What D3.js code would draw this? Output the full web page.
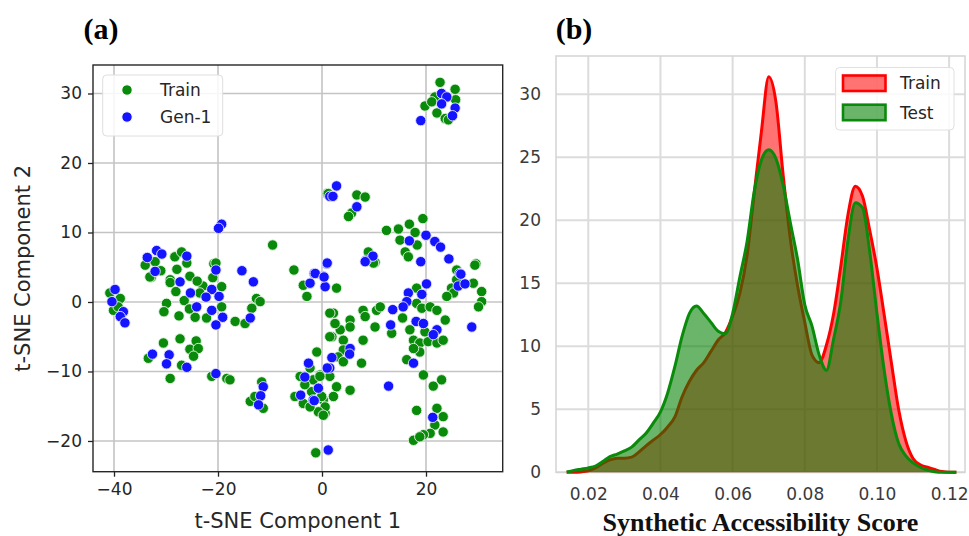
<!DOCTYPE html>
<html><head><meta charset="utf-8">
<script src="https://cdn.jsdelivr.net/npm/d3@7"></script>
<style>body{margin:0;background:#fff}svg{display:block}</style>
</head><body><svg id="c" width="969" height="536" font-family="DejaVu Sans"></svg>
<script>
// ---------- Panel (a) data: t-SNE components ----------
const trainPts = [
[-9.5,8.2],[-5.4,4.6],[-20.8,5.5],[-34.0,5.3],[-28.3,6.5],[-27.0,7.2],[-32.1,5.8],[-27.9,4.7],[-25.4,3.7],[-29.2,3.2],[-32.8,3.6],[1.0,15.6],
[22.7,31.6],[25.6,30.6],[21.7,29.5],[19.8,28.2],[22.1,27.2],[23.7,26.4],[24.3,26.2],[25.7,29.1],[21.1,28.8],
[1.2,15.6],[6.7,15.4],[8.3,15.1],[5.7,12.8],[5.1,12.3],
[12.4,10.3],[14.7,10.5],[16.8,11.2],[19.4,12.0],[17.9,10.0],[15.0,8.9],[16.0,7.2],[16.6,6.5],[18.3,8.2],[29.6,5.5],[25.9,4.6],
[8.9,7.2],[10.2,5.7],
[29.4,5.3],[9.9,5.6],[2.8,2.0],[25.9,3.2],[24.9,2.0],[25.3,1.3],[24.0,0.8],[29.1,2.7],[30.7,1.5],[30.7,0.05],[30.1,-0.7],
[18.2,2.0],[18.2,-0.2],[19.2,-0.9],[20.8,-0.7],[22.1,-1.2],[23.7,-2.6],[16.9,-4.0],[17.6,-5.5],[18.8,-5.9],[20.4,-5.7],[22.1,-5.9],[23.3,-5.5],[19.8,-4.3],[18.8,-7.2],[17.6,-6.7],[16.3,-8.3],[13.4,-4.5],[15.5,-2.3],
[2.2,-1.6],[5.4,-2.6],[7.9,-1.2],[10.5,-1.2],[11.2,-0.7],[10.2,-3.6],[8.3,-2.1],[1.9,-5.0],[3.5,-4.0],[4.1,-5.5],[4.1,-6.9],[3.1,-7.9],[4.1,-8.6],[7.9,-5.5],[7.6,-8.8],[-1.0,-7.2],[5.4,-3.6],[2.5,-3.1],
[-0.4,-10.5],[1.5,-10.7],[2.8,-12.2],[0.25,-14.1],[2.2,-13.6],[5.4,-12.7],[0.6,-16.0],
[19.5,-10.5],[23.0,-11.2],[21.4,-12.1],[18.2,-15.6],[22.1,-15.3],[23.3,-16.5],[21.7,-17.7],[23.3,-18.7],[20.8,-18.9],[19.5,-19.1],[17.6,-19.9],[18.8,-19.4],
[-1.2,-21.7],
[-40.8,1.3],[-38.8,0.5],[-40.1,-1.2],[-39.2,-0.7],
[-33.1,3.6],[-29.2,2.8],[-28.1,1.5],[-26.5,0.2],[-29.9,-0.2],[-30.4,-1.4],[-22.9,2.3],[-23.5,1.3],[-19.3,-0.7],[-24.4,-2.2],[-22.2,-2.3],[-19.3,2.2],[-20.4,5.6],[-16.7,-2.8],[-14.8,-3.1],[-12.6,0.5],[-11.9,0.05],[-13.5,-0.9],
[-3.6,2.4],[-2.9,0.8],[1.5,-1.6],[1.5,-5.0],
[-30.5,-5.9],[-33.4,-8.1],[-27.3,-5.3],[-25.4,-6.8],[-24.2,-5.6],[-23.8,-6.7],[-27.0,-9.1],[-29.2,-11.0],[-24.7,-7.8],
[-21.2,-10.7],[-18.3,-11.0],[-17.7,-11.2],
[-13.8,-14.3],[-11.6,-11.5],[-11.3,-15.3],[-12.9,-13.6],
[-4.2,-10.7],[-5.2,-13.6],[-3.6,-14.6],[-1.7,-11.2],[-0.4,-10.7],[-0.06,-13.6],[0.6,-15.1],[-0.7,-15.8],[0.25,-16.3],[-2.3,-15.1],[-2.0,-12.9],[-3.3,-11.9],[-2.3,-9.5],
[-31.0,4.5],[-26.0,5.6],[-24.0,3.0],[-21.0,3.5],[-27.5,-2.0],[-25.5,-1.0]
];
const genPts = [
[-19.3,11.2],[-19.9,10.6],[-1.5,4.1],[0.25,3.7],[-15.4,4.5],[-20.4,4.6],[-31.8,7.4],[-30.8,6.9],[-33.6,6.4],[-26.0,6.6],[-32.1,4.4],[1.5,15.2],[0.9,5.5],
[23.0,30.0],[24.0,29.5],[23.0,28.5],[25.6,27.9],[25.1,26.8],[19.0,26.1],[2.8,16.7],[2.1,15.2],[6.7,13.7],[16.8,8.8],[20.0,9.6],[21.7,8.7],[22.8,7.9],[24.4,6.2],[19.0,5.8],[26.5,4.1],[8.5,6.0],[9.8,6.6],[-1.3,4.1],
[8.3,5.8],[-2.3,2.7],[0.6,2.2],[0.4,3.6],[26.7,4.0],[26.2,2.3],[27.5,2.6],[20.1,2.6],[16.6,1.3],[19.2,1.1],[16.3,0.05],[15.6,-0.7],[13.6,-1.1],[18.1,-2.8],[19.5,-3.1],[22.1,-4.0],[21.4,-4.7],[17.6,-8.8],[28.8,-3.6],[13.2,-3.3],[5.4,-6.7],[5.3,-7.5],[1.9,-8.0],[1.5,-9.5],[-0.7,-12.4],[-1.7,-14.1],[12.8,-12.1],[21.3,-16.6],[1.2,-21.3],
[-39.8,1.8],[-40.4,0.05],[-38.2,-1.4],[-38.8,-2.1],[-37.9,-3.0],[-27.3,2.9],[-25.3,1.3],[-21.2,1.8],[-19.8,0.8],[-22.3,0.7],[-24.1,-0.7],[-21.2,-1.2],[-19.1,-2.2],[-20.4,-3.3],[-13.2,2.9],[-13.8,-2.3],[1.0,5.6],[-32.6,-7.5],[-29.4,-7.6],[-29.9,-8.9],[-26.0,-9.4],[-20.4,-10.3],[-11.3,-12.2],[-11.8,-13.5],[-12.2,-14.8],[-2.6,-8.8],[-3.3,-10.8],[-4.1,-13.4],[-1.5,-14.2],[1.0,-9.5]
];
const aXTicks = [-40,-20,0,20];
const aYTicks = [-20,-10,0,10,20,30];
const aLegend = ["Train","Gen-1"];

// ---------- Panel (b) data: KDE of Synthetic Accessibility Score ----------
const saX = [0.014,0.016,0.018,0.020,0.022,0.024,0.026,0.028,0.030,0.032,0.034,0.036,0.038,0.040,0.042,0.044,0.046,0.048,0.050,0.052,0.054,0.056,0.058,0.060,0.062,0.064,0.066,0.068,0.070,0.072,0.074,0.076,0.078,0.080,0.082,0.084,0.086,0.088,0.090,0.092,0.094,0.096,0.098,0.100,0.102,0.104,0.106,0.108,0.110,0.112,0.114,0.116,0.118,0.120,0.122];
const trainDensity = [0,0,0.03,0.12,0.35,0.7,0.98,1.12,1.12,1.2,1.6,2.1,2.55,3.0,3.6,4.4,6.0,7.2,8.1,8.7,9.6,10.5,11.1,12.4,14.2,17.2,22.2,27.1,31.4,29.4,23.6,18.5,14.8,11.9,9.3,8.7,10.1,12.6,16.4,20.5,22.7,21.9,19.2,16.2,12.5,8.7,5.0,2.5,1.1,0.6,0.4,0.22,0.06,0,0];
const testDensity  = [0.02,0.15,0.25,0.35,0.5,0.85,1.24,1.45,1.7,2.0,2.55,3.1,3.9,4.8,6.3,8.4,10.8,12.6,13.2,12.6,11.9,11.2,11.0,12.6,15.5,18.3,22.3,24.8,25.6,24.9,22.8,19.8,16.9,13.3,11.6,9.3,8.1,10.6,13.6,18.5,21.4,21.0,17.5,12.6,8.1,4.6,2.3,1.3,0.75,0.4,0.18,0.05,0,0,0];
const bXTicks = [0.02,0.04,0.06,0.08,0.10,0.12];
const bYTicks = [0,5,10,15,20,25,30];
const bLegend = ["Train","Test"];

const svg = d3.select("#c");
const SANS = "DejaVu Sans", SERIF = "'Liberation Serif', 'Times New Roman', serif";

// ================= Panel (a) =================
const A = {l:93, r:502.7, t:65, b:471.7};
const xA = d3.scaleLinear().domain([-44.04,34.75]).range([A.l,A.r]);
const yA = d3.scaleLinear().domain([-24.42,34.1]).range([A.b,A.t]);
const ga = svg.append("g");
ga.selectAll(".gx").data(aXTicks).join("line").attr("x1",d=>xA(d)).attr("x2",d=>xA(d)).attr("y1",A.t).attr("y2",A.b).attr("stroke","#c4c4c4").attr("stroke-width",1.6);
ga.selectAll(".gy").data(aYTicks).join("line").attr("y1",d=>yA(d)).attr("y2",d=>yA(d)).attr("x1",A.l).attr("x2",A.r).attr("stroke","#c4c4c4").attr("stroke-width",1.6);
const axXa = ga.append("g").attr("transform",`translate(0,${A.b})`).call(d3.axisBottom(xA).tickValues(aXTicks).tickSize(5).tickPadding(6).tickFormat(d=>d3.format("d")(d).replace("-","\u2212")));
const axYa = ga.append("g").attr("transform",`translate(${A.l},0)`).call(d3.axisLeft(yA).tickValues(aYTicks).tickSize(5).tickPadding(6).tickFormat(d=>d3.format("d")(d).replace("-","\u2212")));
[axXa,axYa].forEach(g=>{g.select(".domain").remove();g.selectAll("line").attr("stroke","#222").attr("stroke-width",1.3);g.selectAll("text").attr("font-size",17).attr("fill","#262626").style("font-family",SANS);});
ga.selectAll(".tr").data(trainPts).join("circle").attr("cx",d=>xA(d[0])).attr("cy",d=>yA(d[1])).attr("r",5.2).attr("fill","#0a8a0a").attr("stroke","#e8f5e8").attr("stroke-width",0.9);
ga.selectAll(".gn").data(genPts).join("circle").attr("cx",d=>xA(d[0])).attr("cy",d=>yA(d[1])).attr("r",5.2).attr("fill","#1414ff").attr("stroke","#e8e8ff").attr("stroke-width",0.9);
ga.append("rect").attr("x",A.l).attr("y",A.t).attr("width",A.r-A.l).attr("height",A.b-A.t).attr("fill","none").attr("stroke","#262626").attr("stroke-width",1.4);
// legend a
const la = ga.append("g");
la.append("rect").attr("x",102.7).attr("y",75).attr("width",120).attr("height",61).attr("rx",4).attr("fill","#fff").attr("fill-opacity",0.85).attr("stroke","#dedede");
const laColors = ["#0a8a0a","#1414ff"];
aLegend.forEach((t,i)=>{
  la.append("circle").attr("cx",127).attr("cy",90+i*27).attr("r",5.2).attr("fill",laColors[i]).attr("stroke","#fff").attr("stroke-width",0.9);
  la.append("text").attr("x",160).attr("y",90+i*27).attr("dy","0.36em").attr("font-size",17).attr("fill","#262626").style("font-family",SANS).text(t);
});
svg.append("text").attr("x",22).attr("y",(A.t+A.b)/2).attr("transform",`rotate(-90,22,${(A.t+A.b)/2})`).attr("text-anchor","middle").attr("dy","0.36em").attr("font-size",21).attr("fill","#262626").style("font-family",SANS).text("t-SNE Component 2");
svg.append("text").attr("x",(A.l+A.r)/2).attr("y",528).attr("text-anchor","middle").attr("font-size",21).attr("fill","#262626").style("font-family",SANS).text("t-SNE Component 1");
svg.append("text").attr("x",101).attr("y",39).attr("text-anchor","middle").style("font-family",SERIF).attr("font-weight","bold").attr("font-size",30).attr("fill","#000").text("(a)");

// ================= Panel (b) =================
const B = {l:556, r:965, t:56, b:472.3};
const xB = d3.scaleLinear().domain([0.01105,0.1244]).range([B.l,B.r]);
const yB = d3.scaleLinear().domain([0,33.04]).range([B.b,B.t]);
const gb = svg.append("g");
gb.selectAll(".gx").data(bXTicks).join("line").attr("x1",d=>xB(d)).attr("x2",d=>xB(d)).attr("y1",B.t).attr("y2",B.b).attr("stroke","#dcdcdc").attr("stroke-width",2);
gb.selectAll(".gy").data(bYTicks).join("line").attr("y1",d=>yB(d)).attr("y2",d=>yB(d)).attr("x1",B.l).attr("x2",B.r).attr("stroke","#dcdcdc").attr("stroke-width",2);
gb.append("rect").attr("x",B.l).attr("y",B.t).attr("width",B.r-B.l).attr("height",B.b-B.t).attr("fill","none").attr("stroke","#d4d4d4").attr("stroke-width",1.5);
const series = [
  {vals:trainDensity, fill:"rgba(255,0,0,0.55)", stroke:"#ff0000"},
  {vals:testDensity, fill:"rgba(0,128,0,0.58)", stroke:"#0a8a0a"}
];
series.forEach(s=>{
  const pts = saX.map((x,i)=>[x,s.vals[i]]);
  const area = d3.area().x(d=>xB(d[0])).y0(yB(0)).y1(d=>yB(d[1])).curve(d3.curveMonotoneX);
  const line = d3.line().x(d=>xB(d[0])).y(d=>yB(d[1])).curve(d3.curveMonotoneX);
  gb.append("path").datum(pts).attr("d",area).attr("fill",s.fill);
  gb.append("path").datum(pts).attr("d",line).attr("fill","none").attr("stroke",s.stroke).attr("stroke-width",3);
});
const axXb = gb.append("g").attr("transform",`translate(0,${B.b})`).call(d3.axisBottom(xB).tickValues(bXTicks).tickSize(0).tickPadding(16).tickFormat(d3.format(".2f")));
const axYb = gb.append("g").attr("transform",`translate(${B.l},0)`).call(d3.axisLeft(yB).tickValues(bYTicks).tickSize(0).tickPadding(15).tickFormat(d3.format("d")));
[axXb,axYb].forEach(g=>{g.select(".domain").remove();g.selectAll("text").attr("font-size",17).attr("fill","#3a3a3a").style("font-family",SANS);});
// legend b
const lb = gb.append("g");
lb.append("rect").attr("x",835.6).attr("y",67.5).attr("width",118.4).attr("height",62.5).attr("rx",4).attr("fill","#fff").attr("fill-opacity",0.85).attr("stroke","#e0e0e0");
bLegend.forEach((t,i)=>{
  const s = series[i];
  lb.append("rect").attr("x",843).attr("y",75.5+i*29.2).attr("width",42.5).attr("height",15.5).attr("fill",s.fill).attr("stroke",s.stroke).attr("stroke-width",2.6);
  lb.append("text").attr("x",900).attr("y",83.2+i*29.2).attr("dy","0.36em").attr("font-size",17).attr("fill","#262626").style("font-family",SANS).text(t);
});
svg.append("text").attr("x",(B.l+B.r)/2).attr("y",531).attr("text-anchor","middle").style("font-family",SERIF).attr("font-weight","bold").attr("font-size",26).attr("fill","#111").text("Synthetic Accessibility Score");
svg.append("text").attr("x",574).attr("y",39).attr("text-anchor","middle").style("font-family",SERIF).attr("font-weight","bold").attr("font-size",30).attr("fill","#000").text("(b)");
</script></body></html>
